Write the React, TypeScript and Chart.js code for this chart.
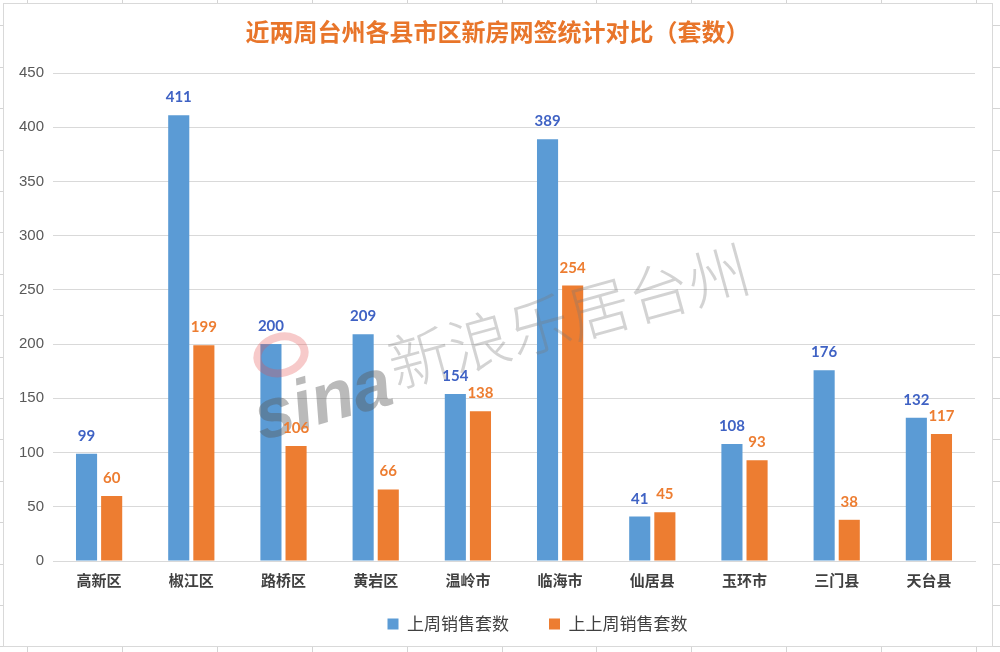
import React, { useEffect, useRef } from "react";
import { Chart, registerables } from "chart.js";

Chart.register(...registerables);

const chartTitle = "近两周台州各县市区新房网签统计对比（套数）";
const categories = ["高新区", "椒江区", "路桥区", "黄岩区", "温岭市", "临海市", "仙居县", "玉环市", "三门县", "天台县"];
const seriesNames = ["上周销售套数", "上上周销售套数"];
const lastWeek = [99, 411, 200, 209, 154, 389, 41, 108, 176, 132];
const weekBefore = [60, 199, 106, 66, 138, 254, 45, 93, 38, 117];
const yMin = 0;
const yMax = 450;
const yStep = 50;
const watermarkLogo = "sina";
const watermarkText = "新浪乐居台州";

const BLUE = "#5B9BD5";
const ORANGE = "#ED7D31";
const BLUE_LABEL = "#3F62C4";
const ORANGE_LABEL = "#ED7D31";

const backgroundPlugin = {
  id: "sheetBackground",
  beforeDraw(chart: any) {
    const ctx = chart.ctx;
    const w = chart.width;
    const h = chart.height;
    ctx.save();
    ctx.fillStyle = "#ffffff";
    ctx.fillRect(0, 0, w, h);
    ctx.strokeStyle = "#D4D4D4";
    ctx.lineWidth = 1;
    for (let x = 27; x < w; x += 94.9) {
      ctx.beginPath();
      ctx.moveTo(Math.round(x) + 0.5, 0);
      ctx.lineTo(Math.round(x) + 0.5, h);
      ctx.stroke();
    }
    for (let y = 398 - 41.4 * 10; y < h; y += 41.4) {
      ctx.beginPath();
      ctx.moveTo(0, Math.round(y) + 0.5);
      ctx.lineTo(w, Math.round(y) + 0.5);
      ctx.stroke();
    }
    ctx.fillStyle = "#ffffff";
    ctx.fillRect(3, 3, 990, 644);
    ctx.strokeStyle = "#D9D9D9";
    ctx.strokeRect(3.5, 3.5, 989, 643);
    ctx.restore();
  },
};

const layoutPlugin = {
  id: "layoutTweaks",
  beforeLayout(chart: any) {
    const lg = chart.legend;
    if (lg && !lg.__patched) {
      const origFit = lg.fit;
      lg.fit = function () {
        origFit.call(this);
        this.height = 76.5;
      };
      lg.__patched = true;
    }
  },
  afterLayout(chart: any) {
    if (chart.legend) {
      chart.legend.left += 46;
      chart.legend.right += 46;
    }
    if (chart.titleBlock) {
      chart.titleBlock.left += 6;
      chart.titleBlock.right += 6;
    }
    if (chart.scales && chart.scales.x) {
      chart.scales.x.bottom += 30;
    }
  },
};

const valueLabelPlugin = {
  id: "valueLabels",
  afterDatasetsDraw(chart: any) {
    const ctx = chart.ctx;
    ctx.save();
    // watermark
    ctx.save();
    ctx.translate(396, 389);
    ctx.rotate(-0.27);
    ctx.font = "300 62px 'Noto Sans CJK SC'";
    ctx.fillStyle = "rgba(120,120,120,0.33)";
    ctx.textAlign = "left";
    ctx.textBaseline = "alphabetic";
    ctx.fillText(watermarkText, 0, 0);
    ctx.restore();
    ctx.save();
    ctx.translate(256, 422);
    ctx.rotate(-0.27);
    ctx.font = "italic 900 70px 'Liberation Sans'";
    ctx.fillStyle = "rgba(90,90,90,0.42)";
    ctx.fillText(watermarkLogo, 0, 0);
    ctx.strokeStyle = "rgba(230,80,80,0.3)";
    ctx.lineWidth = 8;
    ctx.beginPath();
    ctx.ellipse(42, -58, 24, 18, 0, 0, Math.PI * 2);
    ctx.stroke();
    ctx.restore();

    ctx.font = "bold 15px Lato";
    ctx.textAlign = "center";
    ctx.textBaseline = "alphabetic";
    chart.data.datasets.forEach((ds: any, i: number) => {
      const meta = chart.getDatasetMeta(i);
      ctx.fillStyle = i === 0 ? BLUE_LABEL : ORANGE_LABEL;
      meta.data.forEach((el: any, j: number) => {
        ctx.fillText(String(ds.data[j]), el.x, el.y - 13);
      });
    });
    ctx.restore();
  },
};

export default function App() {
  const ref = useRef<HTMLCanvasElement | null>(null);
  useEffect(() => {
    if (!ref.current) return;
    const chart = new Chart(ref.current, {
      type: "bar",
      data: {
        labels: categories,
        datasets: [
          { label: seriesNames[0], data: lastWeek, backgroundColor: BLUE, categoryPercentage: 0.545, barPercentage: 0.84 },
          { label: seriesNames[1], data: weekBefore, backgroundColor: ORANGE, categoryPercentage: 0.545, barPercentage: 0.84 },
        ],
      },
      options: {
        responsive: false,
        animation: false,
        layout: { padding: { left: 8, right: 25, top: 0, bottom: 0 } },
        plugins: {
          title: {
            display: true,
            text: chartTitle,
            color: "#E8752A",
            font: { family: "'Noto Sans CJK SC'", size: 24, weight: "bold" },
            padding: { top: 17, bottom: 27.2 },
          },
          legend: {
            position: "bottom",
            labels: {
              boxWidth: 11,
              boxHeight: 11,
              padding: 40,
              color: "#404040",
              font: { family: "'Noto Sans CJK SC'", size: 17 },
            },
          },
          tooltip: { enabled: false },
        },
        scales: {
          x: {
            grid: { display: false, drawTicks: false },
            border: { display: true, color: "#D9D9D9" },
            ticks: { color: "#404040", padding: 10, font: { family: "'Noto Sans CJK SC'", size: 15, weight: "bold" } },
            afterFit(scale: any) {
              scale.height = 14.5;
            },
          },
          y: {
            min: yMin,
            max: yMax,
            ticks: { stepSize: yStep, color: "#595959", padding: 9, font: { family: "'Liberation Sans'", size: 15 } },
            grid: { color: "#D9D9D9", drawTicks: false },
            border: { display: false },
            afterFit(scale: any) {
              scale.width = 45;
            },
          },
        },
      },
      plugins: [backgroundPlugin, layoutPlugin, valueLabelPlugin],
    } as any);
    return () => chart.destroy();
  }, []);
  return (
    <div style={{ position: "absolute", left: 0, top: 0, width: 1000, height: 652 }}>
      <canvas ref={ref} width={1000} height={652} />
    </div>
  );
}
